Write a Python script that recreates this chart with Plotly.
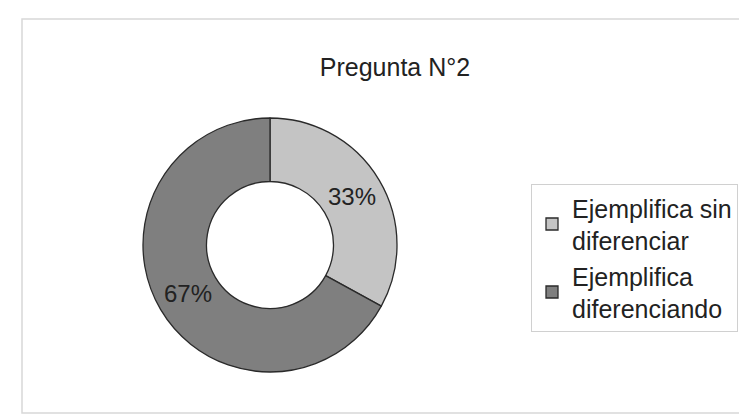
import plotly.graph_objects as go

labels = ["Ejemplifica sin<br>diferenciar", "Ejemplifica<br>diferenciando"]
values = [33, 67]
colors = ["#c4c4c4", "#7f7f7f"]
title_text = "Pregunta N°2"

W, H = 747, 417
font_family = "Liberation Sans, Arial, sans-serif"

fig = go.Figure(go.Pie(
    labels=labels,
    values=values,
    hole=0.5,
    sort=False,
    direction="clockwise",
    rotation=0,
    marker=dict(colors=colors, line=dict(color="#2a2a2a", width=1.3)),
    texttemplate="%{percent:.0%}",
    textposition="inside",
    insidetextorientation="horizontal",
    textfont=dict(family=font_family, size=24, color="#222222"),
    domain=dict(x=[135 / W, 389 / W], y=[53 / H, 307 / H]),
))

# outer chart frame
fig.add_shape(type="rect", xref="paper", yref="paper",
              x0=14 / W, x1=744 / W, y0=(H - 405) / H, y1=(H - 11) / H,
              line=dict(color="#d8d8d8", width=1.5), fillcolor="rgba(0,0,0,0)")

fig.update_layout(
    width=W, height=H,
    margin=dict(l=0, r=0, t=0, b=0),
    paper_bgcolor="white",
    plot_bgcolor="white",
    font=dict(family=font_family, color="#222222"),
    title=dict(text=title_text, x=387 / W, xanchor="center", y=(H - 50) / H, yanchor="top",
               font=dict(size=25, family=font_family, color="#222222")),
    showlegend=True,
    legend=dict(x=523 / W, y=(H - 176) / H, xanchor="left", yanchor="top",
                bordercolor="#d0d0d0", borderwidth=1, bgcolor="white",
                font=dict(size=25, family=font_family, color="#222222"),
                itemwidth=30, tracegroupgap=2),
)

fig.write_html("out.html")
